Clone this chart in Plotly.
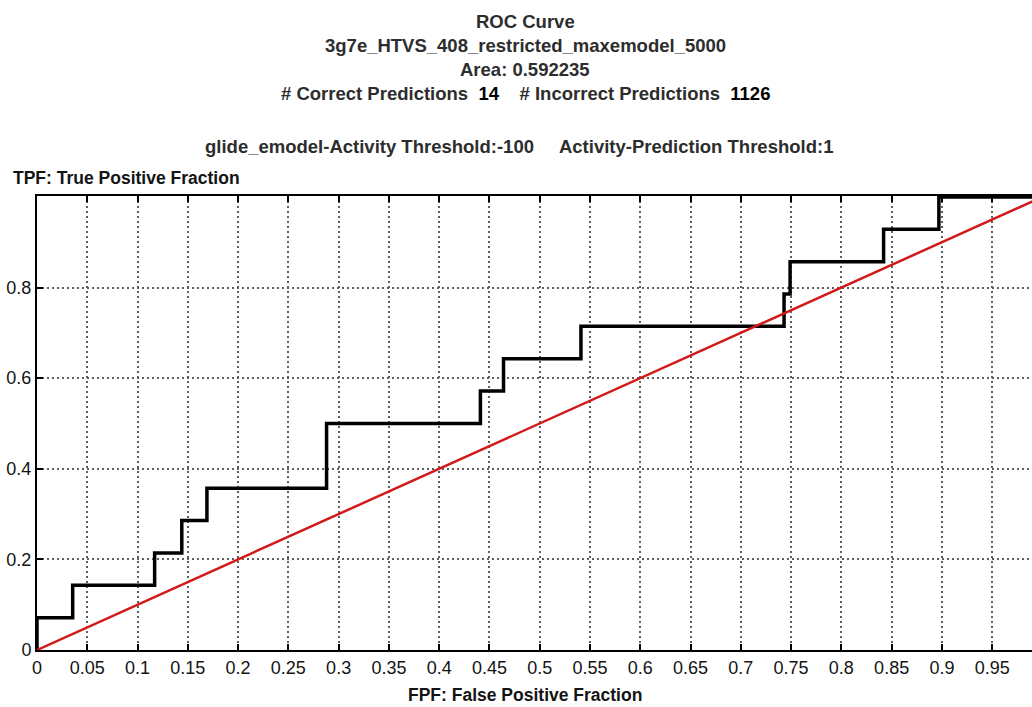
import plotly.graph_objects as go

# ROC step curve: false positive fraction vs true positive fraction (14 actives)
fpf = [0.0, 0.0, 0.0355, 0.117, 0.144, 0.169, 0.288, 0.441, 0.464, 0.541,
       0.743, 0.749, 0.842, 0.897, 1.0]
tpf = [0.0, 0.0714, 0.1429, 0.2143, 0.2857, 0.3571, 0.5, 0.5714, 0.6429,
       0.7143, 0.7857, 0.8571, 0.9286, 1.0, 1.0]

# random-classifier reference line
diag_x = [0.0, 1.0]
diag_y = [0.0, 1.0]

x_ticks = [0, 0.05, 0.1, 0.15, 0.2, 0.25, 0.3, 0.35, 0.4, 0.45, 0.5,
           0.55, 0.6, 0.65, 0.7, 0.75, 0.8, 0.85, 0.9, 0.95]
x_tick_text = ["0", "0.05", "0.1", "0.15", "0.2", "0.25", "0.3", "0.35", "0.4",
               "0.45", "0.5", "0.55", "0.6", "0.65", "0.7", "0.75", "0.8",
               "0.85", "0.9", "0.95"]
y_ticks = [0, 0.2, 0.4, 0.6, 0.8]
y_tick_text = ["0", "0.2", "0.4", "0.6", "0.8"]

NUM = "<span style='color:black'>{}</span>"
title_lines = [
    "ROC Curve",
    "3g7e_HTVS_408_restricted_maxemodel_5000",
    "Area: 0.592235",
    "# Correct Predictions\u00a0 " + NUM.format("14")
    + "\u00a0\u00a0\u00a0 # Incorrect Predictions\u00a0 " + NUM.format("1126"),
]
threshold_line = "glide_emodel-Activity Threshold:-100\u00a0\u00a0\u00a0\u00a0 Activity-Prediction Threshold:1"
y_label = "TPF: True Positive Fraction"
x_label = "FPF: False Positive Fraction"

W, H = 1032, 707
L, R, T, B = 37, 0, 196, 57
FONT = "Liberation Sans, Arial, Helvetica, sans-serif"
INK = "rgb(20,20,20)"
TITLE_INK = "rgb(45,45,45)"


def px_x(px):
    return (px - L) / (W - L - R)


def px_y(py):
    return (H - B - py) / (H - T - B)


fig = go.Figure()
fig.add_trace(go.Scatter(
    x=fpf, y=tpf, mode="lines", line=dict(color="black", width=3.5, shape="hv"),
    showlegend=False, hoverinfo="skip"))
fig.add_trace(go.Scatter(
    x=diag_x, y=diag_y, mode="lines", line=dict(color="rgb(210,25,25)", width=2.5),
    showlegend=False, hoverinfo="skip"))


def label(text, px, py, size, anchor="center", color=INK):
    return dict(
        text=text, x=px_x(px), y=px_y(py), xref="paper", yref="paper",
        xanchor=anchor, yanchor="middle", showarrow=False,
        font=dict(family=FONT, size=size, color=color, weight="bold"))


annotations = [label(line, 525, 21.5 + 24 * i, 18.5, color=TITLE_INK)
               for i, line in enumerate(title_lines)]
annotations.append(label(threshold_line, 519, 147, 18.5, color=TITLE_INK))
annotations.append(label(y_label, 11, 178, 17.5, anchor="left"))
annotations.append(label(x_label, 525, 695, 17.5))

fig.update_layout(
    width=W, height=H,
    margin=dict(l=L, r=R, t=T, b=B, pad=0),
    paper_bgcolor="white", plot_bgcolor="white",
    font=dict(family=FONT, size=18, color=INK),
    annotations=annotations,
    xaxis=dict(
        range=[0, 0.9896], tickmode="array", tickvals=x_ticks, ticktext=x_tick_text,
        ticks="inside", ticklen=6, tickwidth=1.5, tickcolor="black",
        showline=True, linecolor="black", linewidth=2, mirror="ticks",
        showgrid=True, gridcolor="rgb(95,95,95)", gridwidth=1.5, griddash="2px,3px",
        zeroline=False, tickfont=dict(family=FONT, size=18, color=INK),
    ),
    yaxis=dict(
        range=[0, 1.002], tickmode="array", tickvals=y_ticks, ticktext=y_tick_text,
        ticks="inside", ticklen=6, tickwidth=1.5, tickcolor="black",
        showline=True, linecolor="black", linewidth=2, mirror=False,
        showgrid=True, gridcolor="rgb(95,95,95)", gridwidth=1.5, griddash="2px,3px",
        zeroline=False, tickfont=dict(family=FONT, size=18, color=INK),
    ),
)

fig.write_html("out.html")
